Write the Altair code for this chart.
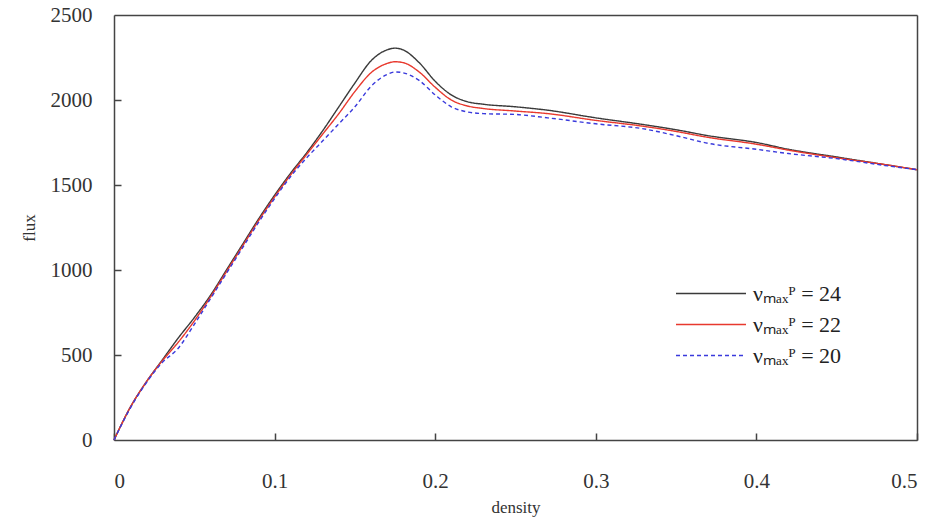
import altair as alt
import pandas as pd

density = [0, 0.01, 0.02, 0.03, 0.04, 0.05, 0.06, 0.07, 0.08, 0.09, 0.10, 0.11, 0.12,
           0.13, 0.14, 0.15, 0.16, 0.17, 0.175, 0.18, 0.19, 0.20, 0.21, 0.22, 0.23,
           0.25, 0.27, 0.30, 0.33, 0.35, 0.37, 0.40, 0.42, 0.45, 0.48, 0.50]
flux_24 = [0, 190, 340, 470, 600, 720, 850, 1000, 1150, 1300, 1440, 1570, 1690,
           1820, 1960, 2100, 2230, 2295, 2305, 2295, 2220, 2110, 2030, 1990, 1975,
           1960, 1940, 1895, 1855, 1825, 1790, 1750, 1710, 1665, 1620, 1590]
flux_22 = [0, 190, 340, 465, 575, 700, 840, 990, 1140, 1290, 1430, 1560, 1680,
           1800, 1920, 2050, 2160, 2215, 2225, 2220, 2165, 2075, 2000, 1965, 1950,
           1935, 1920, 1880, 1845, 1815, 1780, 1740, 1705, 1660, 1620, 1590]
flux_20 = [0, 185, 335, 455, 540, 680, 830, 980, 1130, 1280, 1420, 1550, 1660,
           1760, 1860, 1960, 2080, 2150, 2165, 2160, 2115, 2030, 1960, 1930, 1920,
           1915, 1895, 1860, 1830, 1790, 1745, 1710, 1685, 1655, 1615, 1590]

series_labels = ["νₘₐₓᴾ = 24", "νₘₐₓᴾ = 22", "νₘₐₓᴾ = 20"]
series_values = [flux_24, flux_22, flux_20]
series_colors = ["#3a3a3a", "#e8392e", "#3a3adc"]
series_dash = [[1, 0], [1, 0], [4, 3]]

y_ticks = [0, 500, 1000, 1500, 2000, 2500]
x_ticks = [0, 0.1, 0.2, 0.3, 0.4, 0.5]
y_inner_ticks = [500, 1000, 1500, 2000]

rows = []
for lab, vals in zip(series_labels, series_values):
    for d, f in zip(density, vals):
        rows.append({"density": d, "flux": f, "series": lab})
df = pd.DataFrame(rows)

W, H = 803, 425
FONT = "Liberation Serif"
FRAME = "#444"
TICK = 7

xscale = alt.Scale(domain=[0, 0.5], nice=False, zero=False)
yscale = alt.Scale(domain=[0, 2500], nice=False)

lines = alt.Chart(df).mark_line(strokeWidth=1.4, interpolate="monotone").encode(
    x=alt.X("density:Q", scale=xscale,
            axis=alt.Axis(title="density", values=x_ticks, format="~g", ticks=False,
                          domain=True, domainColor=FRAME, domainWidth=1.5,
                          grid=True, gridColor=FRAME, gridWidth=1.5,
                          gridDash=[0, H - TICK, TICK, 3000], gridOpacity=1,
                          labelPadding=30, titlePadding=8,
                          labelFont=FONT, labelFontSize=21, labelColor="#333",
                          titleFont=FONT, titleFontSize=17, titleFontWeight="normal",
                          titleColor="#333")),
    y=alt.Y("flux:Q", scale=yscale,
            axis=alt.Axis(title="flux", values=y_ticks, format="d", ticks=False,
                          domain=True, domainColor=FRAME, domainWidth=1.5,
                          grid=False,
                          labelPadding=22, titlePadding=12,
                          labelFont=FONT, labelFontSize=21, labelColor="#333",
                          titleFont=FONT, titleFontSize=17, titleFontWeight="normal",
                          titleColor="#333")),
    color=alt.Color("series:N", sort=series_labels,
                    scale=alt.Scale(domain=series_labels, range=series_colors),
                    legend=alt.Legend(title=None, orient="none", legendX=561, legendY=265,
                                      symbolType="stroke", symbolSize=4900,
                                      symbolStrokeWidth=1.4, labelFont=FONT,
                                      labelFontSize=22, labelColor="#222",
                                      labelOffset=6, rowPadding=4, clipHeight=27)),
    strokeDash=alt.StrokeDash("series:N", sort=series_labels,
                              scale=alt.Scale(domain=series_labels, range=series_dash),
                              legend=None),
)

frame = alt.Chart(df).mark_line(opacity=0).encode(
    x=alt.X("density:Q", scale=xscale,
            axis=alt.Axis(orient="top", labels=False, title=None, ticks=False,
                          grid=False, domain=True, domainColor=FRAME, domainWidth=1.5)),
    y=alt.Y("flux:Q", scale=yscale,
            axis=alt.Axis(orient="right", labels=False, title=None, ticks=False,
                          grid=True, gridColor=FRAME, gridWidth=1.5,
                          gridDash=[0, W - TICK, TICK, 3000], gridOpacity=1,
                          values=y_inner_ticks,
                          domain=True, domainColor=FRAME, domainWidth=1.5)),
    detail="series:N",
)

chart = alt.layer(lines, frame).resolve_axis(
    x="independent", y="independent"
).properties(
    width=W, height=H,
    autosize=alt.AutoSizeParams(type="none"),
    padding={"left": 114, "top": 15, "right": 18, "bottom": 80},
).configure_view(
    stroke=None
).configure(background="white")

chart.save("out.html", embed_options={"renderer": "svg", "actions": False})
